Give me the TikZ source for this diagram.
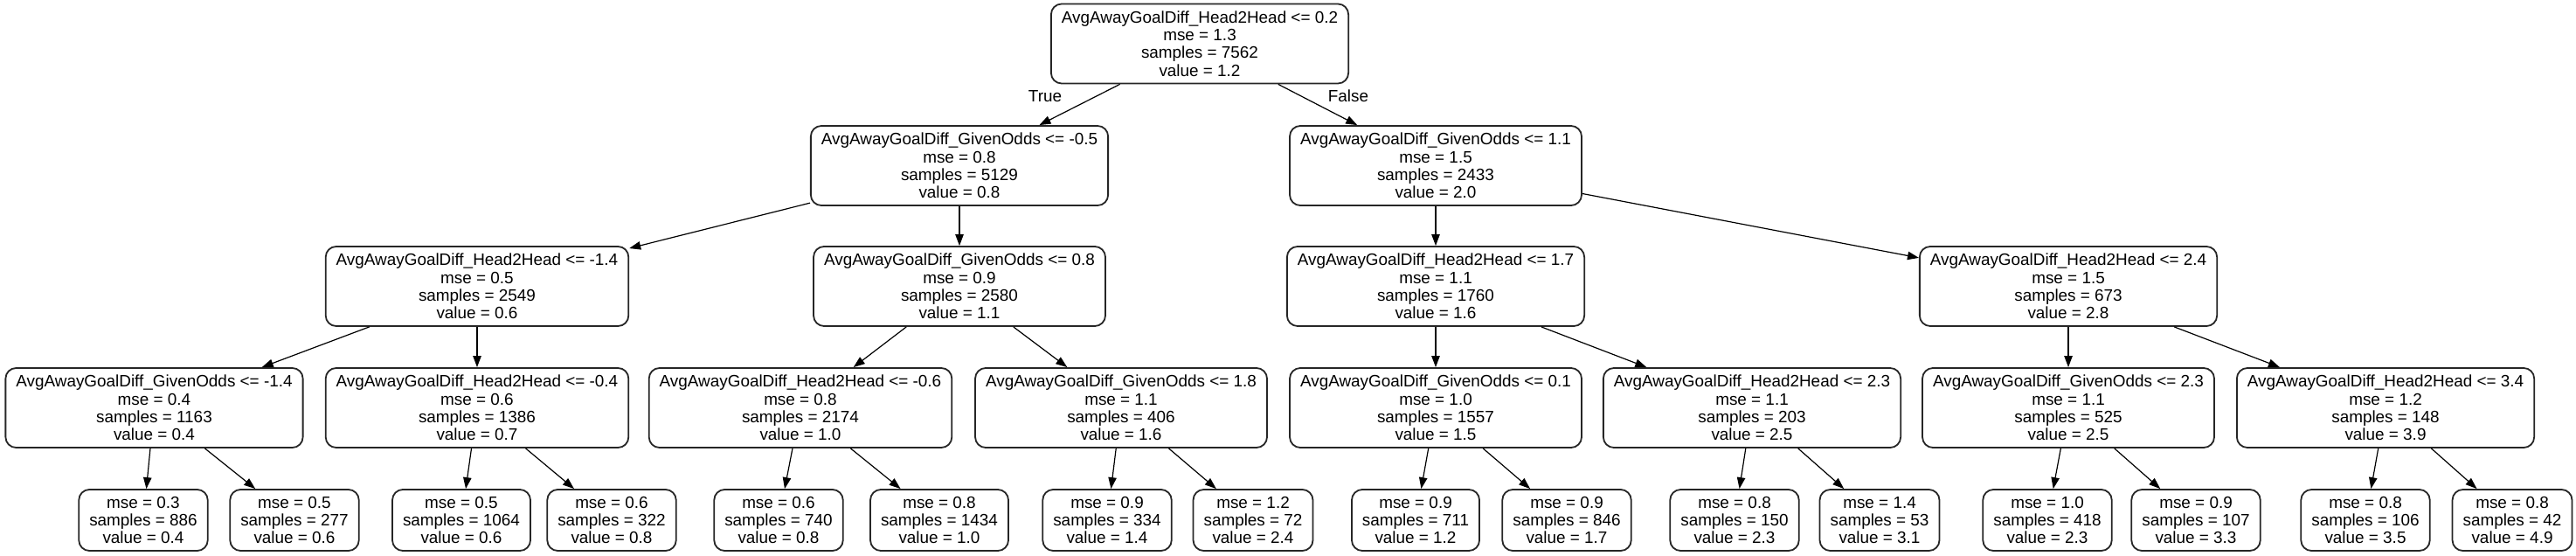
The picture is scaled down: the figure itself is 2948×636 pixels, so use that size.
\documentclass[tikz,border=0pt]{standalone}
\usepackage{fontspec}
\setmainfont{Liberation Sans}
\usetikzlibrary{arrows.meta}
\newcommand\splittxt[4]{#1\\mse = #2\\samples = #3\\value = #4}
\newcommand\leaftxt[3]{mse = #1\\samples = #2\\value = #3}
\begin{document}
\begin{tikzpicture}[x=0.5pt,y=-0.5pt,
  tnode/.style={draw=black!85, line width=0.9pt, rounded corners=6pt, align=center,
    font=\fontsize{9.45}{10.15}\selectfont, inner xsep=6pt, inner ysep=0pt, fill=white},
  splitnode/.style={tnode, minimum height=45.5pt},
  leafnode/.style={tnode, minimum height=35pt},
  conn/.style={line width=0.6pt, -{Triangle[length=6.5pt,width=4.7pt]}},
  elabel/.style={font=\fontsize{9.45}{10.15}\selectfont, inner sep=0pt}
]
\useasboundingbox (0,0) rectangle (2948,636);
% level 0
\node[splitnode] (r) at (1373,50) {\splittxt{AvgAwayGoalDiff\_Head2Head <= 0.2}{1.3}{7562}{1.2}};
% level 1
\node[splitnode] (a) at (1098,189.5) {\splittxt{AvgAwayGoalDiff\_GivenOdds <= -0.5}{0.8}{5129}{0.8}};
\node[splitnode] (b) at (1643,189.5) {\splittxt{AvgAwayGoalDiff\_GivenOdds <= 1.1}{1.5}{2433}{2.0}};
% level 2
\node[splitnode] (aa) at (546,327.5) {\splittxt{AvgAwayGoalDiff\_Head2Head <= -1.4}{0.5}{2549}{0.6}};
\node[splitnode] (ab) at (1098,327.5) {\splittxt{AvgAwayGoalDiff\_GivenOdds <= 0.8}{0.9}{2580}{1.1}};
\node[splitnode] (ba) at (1643,327.5) {\splittxt{AvgAwayGoalDiff\_Head2Head <= 1.7}{1.1}{1760}{1.6}};
\node[splitnode] (bb) at (2367,327.5) {\splittxt{AvgAwayGoalDiff\_Head2Head <= 2.4}{1.5}{673}{2.8}};
% level 3
\node[splitnode] (aaa) at (176.5,466.5) {\splittxt{AvgAwayGoalDiff\_GivenOdds <= -1.4}{0.4}{1163}{0.4}};
\node[splitnode] (aab) at (546,466.5) {\splittxt{AvgAwayGoalDiff\_Head2Head <= -0.4}{0.6}{1386}{0.7}};
\node[splitnode] (aba) at (916,466.5) {\splittxt{AvgAwayGoalDiff\_Head2Head <= -0.6}{0.8}{2174}{1.0}};
\node[splitnode] (abb) at (1283,466.5) {\splittxt{AvgAwayGoalDiff\_GivenOdds <= 1.8}{1.1}{406}{1.6}};
\node[splitnode] (baa) at (1643,466.5) {\splittxt{AvgAwayGoalDiff\_GivenOdds <= 0.1}{1.0}{1557}{1.5}};
\node[splitnode] (bab) at (2005,466.5) {\splittxt{AvgAwayGoalDiff\_Head2Head <= 2.3}{1.1}{203}{2.5}};
\node[splitnode] (bba) at (2367,466.5) {\splittxt{AvgAwayGoalDiff\_GivenOdds <= 2.3}{1.1}{525}{2.5}};
\node[splitnode] (bbb) at (2730,466.5) {\splittxt{AvgAwayGoalDiff\_Head2Head <= 3.4}{1.2}{148}{3.9}};
% leaves
\node[leafnode] (l1) at (164,595) {\leaftxt{0.3}{886}{0.4}};
\node[leafnode] (l2) at (337,595) {\leaftxt{0.5}{277}{0.6}};
\node[leafnode] (l3) at (528,595) {\leaftxt{0.5}{1064}{0.6}};
\node[leafnode] (l4) at (700,595) {\leaftxt{0.6}{322}{0.8}};
\node[leafnode] (l5) at (891,595) {\leaftxt{0.6}{740}{0.8}};
\node[leafnode] (l6) at (1075,595) {\leaftxt{0.8}{1434}{1.0}};
\node[leafnode] (l7) at (1267,595) {\leaftxt{0.9}{334}{1.4}};
\node[leafnode] (l8) at (1434,595) {\leaftxt{1.2}{72}{2.4}};
\node[leafnode] (l9) at (1620,595) {\leaftxt{0.9}{711}{1.2}};
\node[leafnode] (l10) at (1793,595) {\leaftxt{0.9}{846}{1.7}};
\node[leafnode] (l11) at (1985,595) {\leaftxt{0.8}{150}{2.3}};
\node[leafnode] (l12) at (2151,595) {\leaftxt{1.4}{53}{3.1}};
\node[leafnode] (l13) at (2343,595) {\leaftxt{1.0}{418}{2.3}};
\node[leafnode] (l14) at (2513,595) {\leaftxt{0.9}{107}{3.3}};
\node[leafnode] (l15) at (2707,595) {\leaftxt{0.8}{106}{3.5}};
\node[leafnode] (l16) at (2875,595) {\leaftxt{0.8}{42}{4.9}};
% edges
\draw[conn] (r) -- (a);
\draw[conn] (r) -- (b);
\draw[conn] (a) -- (aa);
\draw[conn] (a) -- (ab);
\draw[conn] (b) -- (ba);
\draw[conn] (b) -- (bb);
\draw[conn] (aa) -- (aaa);
\draw[conn] (aa) -- (aab);
\draw[conn] (ab) -- (aba);
\draw[conn] (ab) -- (abb);
\draw[conn] (ba) -- (baa);
\draw[conn] (ba) -- (bab);
\draw[conn] (bb) -- (bba);
\draw[conn] (bb) -- (bbb);
\draw[conn] (aaa) -- (l1);
\draw[conn] (aaa) -- (l2);
\draw[conn] (aab) -- (l3);
\draw[conn] (aab) -- (l4);
\draw[conn] (aba) -- (l5);
\draw[conn] (aba) -- (l6);
\draw[conn] (abb) -- (l7);
\draw[conn] (abb) -- (l8);
\draw[conn] (baa) -- (l9);
\draw[conn] (baa) -- (l10);
\draw[conn] (bab) -- (l11);
\draw[conn] (bab) -- (l12);
\draw[conn] (bba) -- (l13);
\draw[conn] (bba) -- (l14);
\draw[conn] (bbb) -- (l15);
\draw[conn] (bbb) -- (l16);
% edge labels
\node[elabel] (tl) at (1196,110) {True};
\node[elabel] (fl) at (1543,110) {False};
\end{tikzpicture}
\end{document}
